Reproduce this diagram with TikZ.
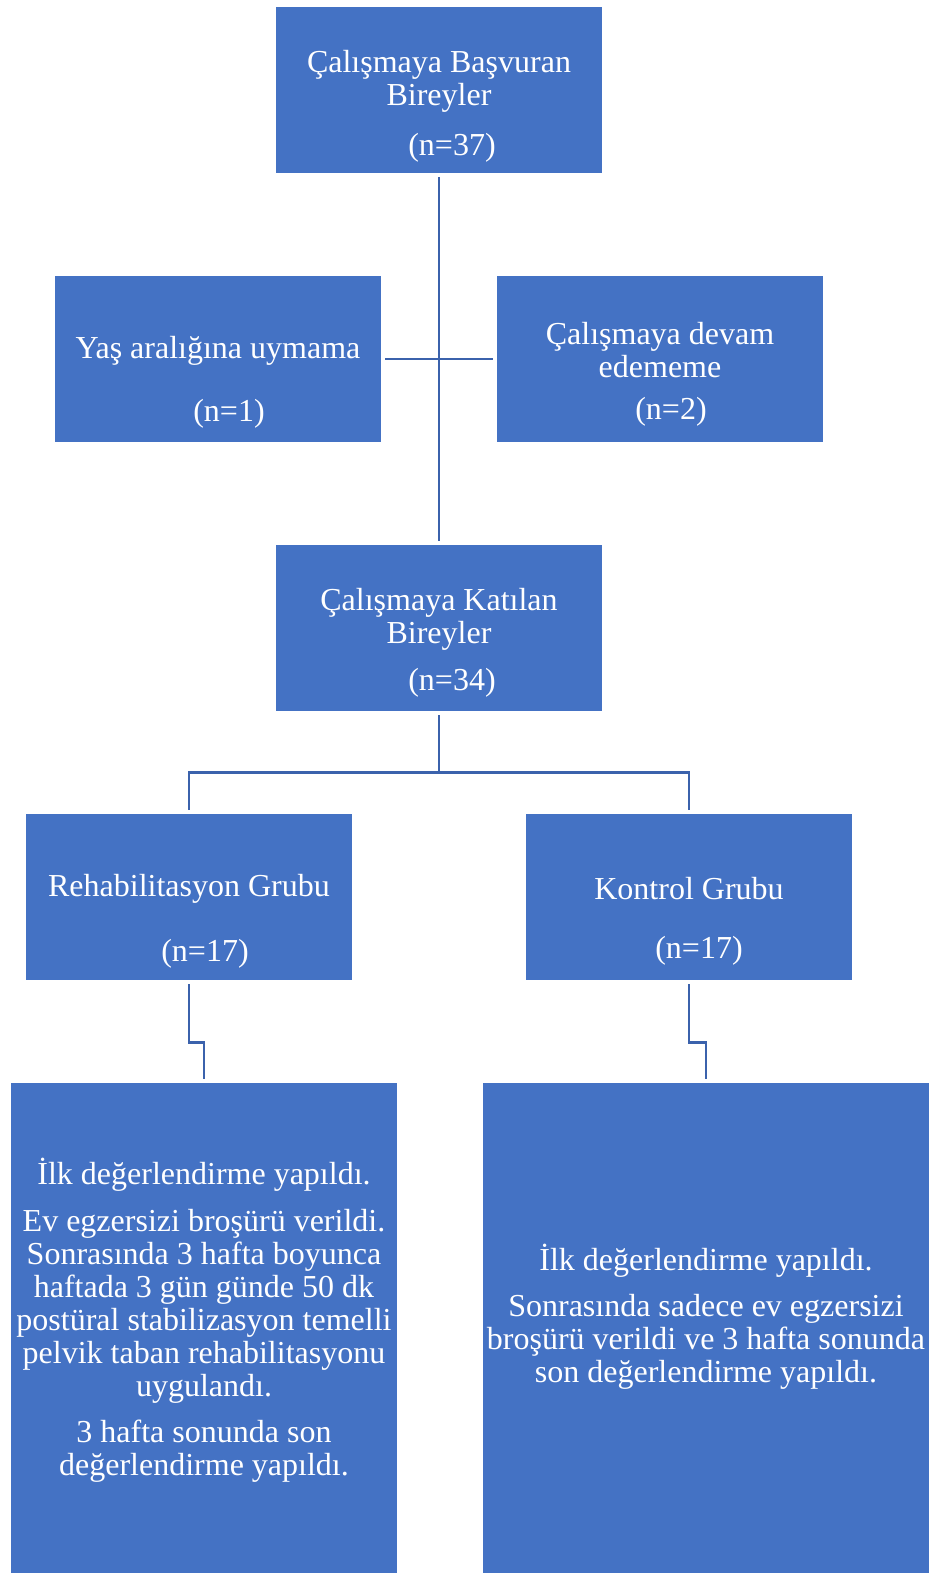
\documentclass[tikz,border=0pt]{standalone}
\usepackage{fontspec}
\setmainfont{Liberation Serif}
\usetikzlibrary{calc}
\definecolor{kutumavi}{RGB}{68,114,196}
\definecolor{cizgimavi}{RGB}{59,98,172}
\tikzset{
kutu/.style = {fill=kutumavi, draw=none, inner sep=0pt, minimum width=244.5pt, minimum height=124.5pt}
}
\tikzset{
yazi/.style = {text=white, align=center, inner sep=0pt, font=\fontsize{24}{24.75}\selectfont}
}
\tikzset{
baglanti/.style = {draw=cizgimavi, line width=2.2pt, shorten >= 3pt, shorten <= 3pt}
}
\begin{document}
\begin{tikzpicture}[x=0.75pt,y=-0.75pt]
    \useasboundingbox (0,0) rectangle (929,1573);

    % kutular
    \node[kutu] (basvuran) at (439,90) {};
    \node[kutu] (yas) at (218,359) {};
    \node[kutu] (devam) at (660,359) {};
    \node[kutu] (katilan) at (439,628) {};
    \node[kutu] (rehab) at (189,897) {};
    \node[kutu] (kontrol) at (689,897) {};
    \node[kutu, minimum width=289.5pt, minimum height=367.5pt] (rehabDetay) at (204,1328) {};
    \node[kutu, minimum width=334.5pt, minimum height=367.5pt] (kontrolDetay) at (706,1328) {};

    % yazilar
    \node[yazi] (basvuranYazi) at (439,81) {Çalışmaya Başvuran\\Bireyler};
    \node[yazi] (basvuranN) at (452,148) {(n=37)};
    \node[yazi] (yasYazi) at (218,351) {Yaş aralığına uymama};
    \node[yazi] (yasN) at (229,414) {(n=1)};
    \node[yazi] (devamYazi) at (660,350.5) {Çalışmaya devam\\edememe};
    \node[yazi] (devamN) at (671,412) {(n=2)};
    \node[yazi] (katilanYazi) at (439,619.5) {Çalışmaya Katılan\\Bireyler};
    \node[yazi] (katilanN) at (452,683) {(n=34)};
    \node[yazi] (rehabYazi) at (189,889) {Rehabilitasyon Grubu};
    \node[yazi] (rehabN) at (205,954) {(n=17)};
    \node[yazi] (kontrolYazi) at (689,889) {Kontrol Grubu};
    \node[yazi] (kontrolN) at (699,951) {(n=17)};
    \node[yazi] (rehabDetayYazi) at (204,1320.5) {İlk değerlendirme yapıldı.\\[10pt]
        Ev egzersizi broşürü verildi.\\Sonrasında 3 hafta boyunca\\haftada 3 gün günde 50 dk\\
        postüral stabilizasyon temelli\\pelvik taban rehabilitasyonu\\uygulandı.\\[10pt]
        3 hafta sonunda son\\değerlendirme yapıldı.};
    \node[yazi] (kontrolDetayYazi) at (706,1316.5) {İlk değerlendirme yapıldı.\\[10pt]
        Sonrasında sadece ev egzersizi\\broşürü verildi ve 3 hafta sonunda\\son değerlendirme yapıldı.};

    % baglantilar
    \draw[baglanti] (basvuran.south) -- (katilan.north);
    \draw[baglanti] (yas.east) -- (devam.west);
    \draw[baglanti] (katilan.south) -- ++(0,61) -| (rehab.north);
    \draw[baglanti] (katilan.south) -- ++(0,61) -| (kontrol.north);
    \draw[baglanti] (rehab.south) -- ++(0,62) -| (rehabDetay.north);
    \draw[baglanti] (kontrol.south) -- ++(0,62) -| (kontrolDetay.north);
\end{tikzpicture}
\end{document}
